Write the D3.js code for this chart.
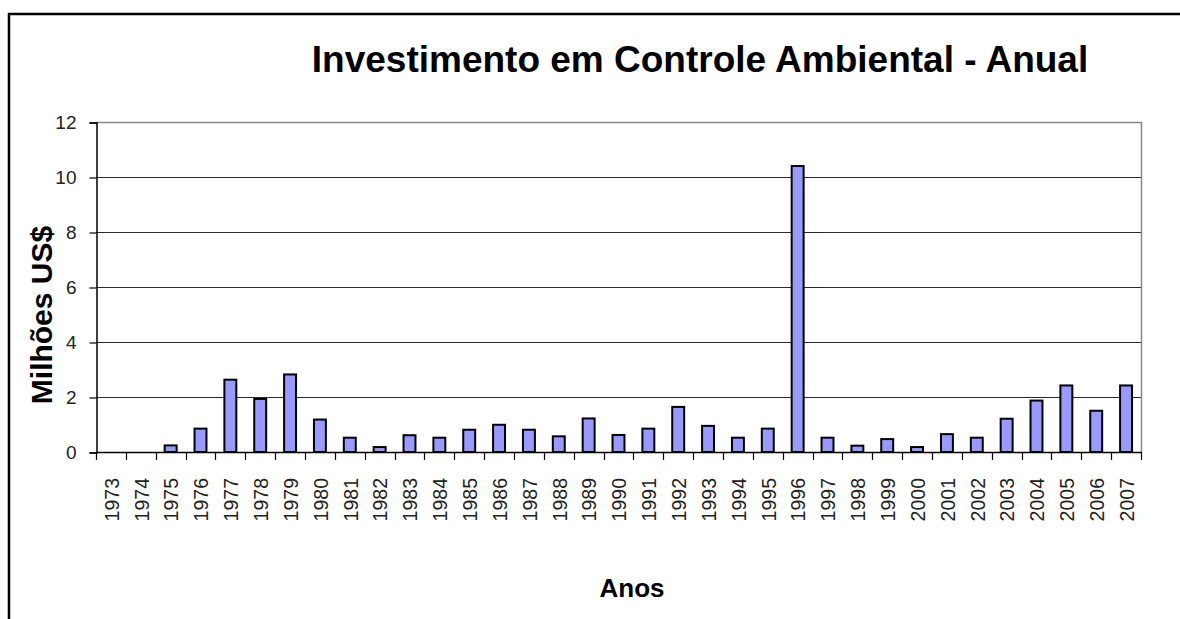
<!DOCTYPE html>
<html>
<head>
<meta charset="utf-8">
<script src="https://cdn.jsdelivr.net/npm/d3@7"></script>
<style>
  html, body { margin: 0; padding: 0; background: #fff; }
  svg { display: block; }
  text { font-family: Arial, "Liberation Sans", sans-serif; }
</style>
</head>
<body>
<svg id="chart" width="1180" height="619"></svg>
<script>
const years = ["1973","1974","1975","1976","1977","1978","1979","1980","1981","1982",
  "1983","1984","1985","1986","1987","1988","1989","1990","1991","1992",
  "1993","1994","1995","1996","1997","1998","1999","2000","2001","2002",
  "2003","2004","2005","2006","2007"];
const values = [0, 0, 0.24, 0.85, 2.63, 1.93, 2.82, 1.18, 0.52, 0.18,
  0.61, 0.52, 0.81, 0.99, 0.81, 0.57, 1.22, 0.62, 0.85, 1.64,
  0.95, 0.52, 0.85, 10.4, 0.52, 0.23, 0.47, 0.18, 0.65, 0.52,
  1.21, 1.87, 2.42, 1.50, 2.42];
const yTicks = [0, 2, 4, 6, 8, 10, 12];
const title = "Investimento em Controle Ambiental - Anual";
const yTitle = "Milhões US$";
const xTitle = "Anos";

const svg = d3.select("#chart");
const W = 1180, H = 619;
const plot = { left: 96, right: 1141, top: 122, bottom: 452 };

// outer frame (top + left only)
svg.append("path")
  .attr("d", `M9,${H} L9,14 L${W},14`)
  .attr("fill", "none").attr("stroke", "#000").attr("stroke-width", 2.5);

const x = d3.scaleBand().domain(years).range([plot.left, plot.right]).paddingInner(0.6).paddingOuter(0.3);
const y = d3.scaleLinear().domain([0, 12]).range([plot.bottom, plot.top]);

// gridlines
svg.append("g").selectAll("line").data(yTicks.filter(d => d > 0 && d < 12)).join("line")
  .attr("x1", plot.left).attr("x2", plot.right)
  .attr("y1", d => Math.round(y(d)) + 0.5).attr("y2", d => Math.round(y(d)) + 0.5)
  .attr("stroke", "#2a2a2a").attr("stroke-width", 1.2);

// plot border top/right
svg.append("path")
  .attr("d", `M${plot.left},${plot.top + 0.5} L${plot.right + 0.5},${plot.top + 0.5} L${plot.right + 0.5},${plot.bottom}`)
  .attr("fill", "none").attr("stroke", "#888").attr("stroke-width", 1.5);

// bars
svg.append("g").selectAll("rect").data(values.map((v, i) => ({ year: years[i], v })).filter(d => d.v > 0)).join("rect")
  .attr("x", d => x(d.year))
  .attr("width", x.bandwidth())
  .attr("y", d => y(d.v))
  .attr("height", d => y(0) - y(d.v))
  .attr("fill", "#9999ff")
  .attr("stroke", "#000")
  .attr("stroke-width", 2);

// y axis
const yAxis = d3.axisLeft(y).tickValues(yTicks).tickSize(7).tickPadding(13).tickFormat(d3.format("d"));
const gy = svg.append("g").attr("transform", `translate(${plot.left + 0.5},0.5)`).call(yAxis);
gy.select(".domain").attr("stroke", "#000").attr("stroke-width", 1.5);
gy.selectAll(".tick line").attr("stroke", "#000").attr("stroke-width", 1.2);
gy.selectAll(".tick text").attr("font-size", 19).attr("fill", "#222")
  .attr("font-family", "Arial, 'Liberation Sans', sans-serif");

// x axis: ticks at category boundaries
const step = x.step();
const bounds = years.map((d, i) => plot.left + i * step).concat([plot.right]);
const gx = svg.append("g");
gx.append("line").attr("x1", plot.left).attr("x2", plot.right)
  .attr("y1", plot.bottom + 0.5).attr("y2", plot.bottom + 0.5)
  .attr("stroke", "#000").attr("stroke-width", 1.5);
gx.selectAll("line.tk").data(bounds).join("line").attr("class", "tk")
  .attr("x1", d => Math.round(d) + 0.5).attr("x2", d => Math.round(d) + 0.5)
  .attr("y1", plot.bottom).attr("y2", plot.bottom + 8)
  .attr("stroke", "#000").attr("stroke-width", 1.2);
gx.selectAll("text").data(years).join("text")
  .attr("transform", d => `translate(${x(d) + x.bandwidth() / 2 + 1},478) rotate(-90)`)
  .attr("text-anchor", "end")
  .attr("dy", "0.35em")
  .attr("font-size", 19.5)
  .attr("fill", "#222")
  .text(d => d);

// titles
svg.append("text").attr("x", 700).attr("y", 72).attr("text-anchor", "middle")
  .attr("font-size", 37).attr("font-weight", "bold").attr("fill", "#000").text(title);
svg.append("text").attr("transform", "translate(52,315) rotate(-90)").attr("text-anchor", "middle")
  .attr("font-size", 30).attr("font-weight", "bold").attr("fill", "#000").text(yTitle);
svg.append("text").attr("x", 632).attr("y", 597).attr("text-anchor", "middle")
  .attr("font-size", 26).attr("font-weight", "bold").attr("fill", "#000").text(xTitle);
</script>
</body>
</html>
